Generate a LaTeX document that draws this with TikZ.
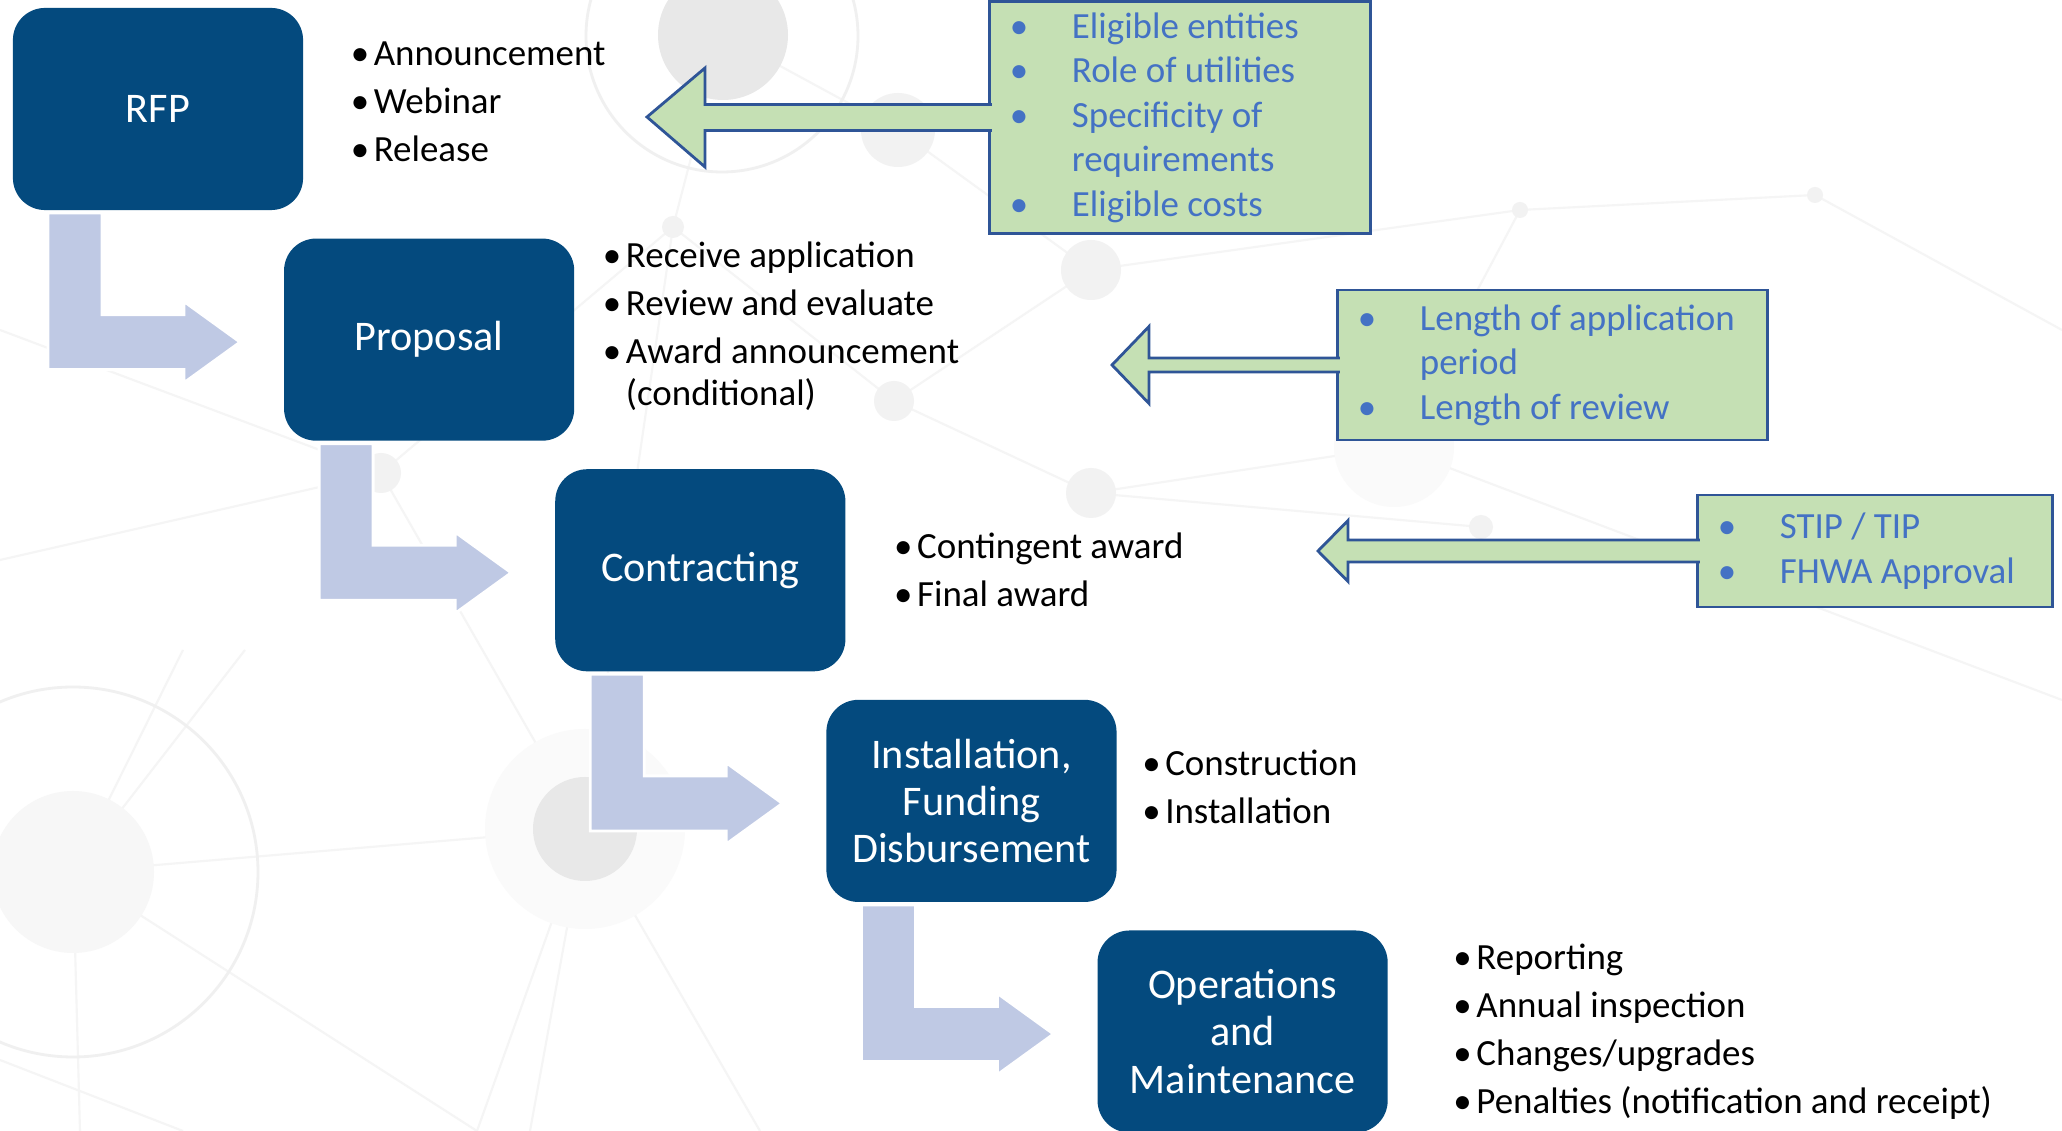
\documentclass[tikz,border=0pt]{standalone}
\usepackage{fontspec}
\setmainfont{Carlito}
\usepackage{xcolor}
\usetikzlibrary{positioning,calc}

\definecolor{stageblue}{RGB}{4,74,126}
\definecolor{flowblue}{RGB}{191,201,228}
\definecolor{notegreen}{RGB}{197,224,180}
\definecolor{noteborder}{RGB}{47,85,151}
\definecolor{notetext}{RGB}{68,114,196}

\newcommand{\itm}{\makebox[0.23cm][l]{\textbullet}}
\newcommand{\gitm}{\makebox[0.62cm][l]{\textbullet}}

% bent block arrow from one stage down and over to the next
\newcommand{\bentarrow}[2]{%
  \filldraw[flowarrow] let \p1=(#1.south west), \p2=(#2.west) in
    (\x1+0.35cm,\y1-0.03cm) -- (\x1+0.89cm,\y1-0.03cm) -- (\x1+0.89cm,\y2+0.25cm)
    -- (\x2-1cm,\y2+0.25cm) -- (\x2-1cm,\y2+0.38cm) -- (\x2-0.44cm,\y2-0.025cm)
    -- (\x2-1cm,\y2-0.43cm) -- (\x2-1cm,\y2-0.30cm) -- (\x1+0.35cm,\y2-0.30cm) -- cycle;}

% block arrow from a note box to a free tip
\newcommand{\notearrow}[5]{%
  \filldraw[notearrow] let \p1=(#1.west), \p2=(#2) in
    (\x1+0.02cm,\y1+#3) -- (\x2+#5,\y1+#3) -- (\x2+#5,\y1+#4) -- (\x2,\y2)
    -- (\x2+#5,\y1-#4) -- (\x2+#5,\y1-#3) -- (\x1+0.02cm,\y1-#3);}

\begin{document}
\begin{tikzpicture}[x=0.01cm,y=-0.01cm,
    stage/.style={fill=stageblue, rounded corners=0.32cm, minimum width=2.9cm, minimum height=2.02cm,
      inner sep=0pt, outer sep=0pt, text=white, align=center, font=\fontsize{12}{13.4}\selectfont},
    bullets/.style={align=flush left, inner sep=0pt, font=\fontsize{10.5}{11.95}\selectfont},
    note/.style={draw=noteborder, line width=0.8pt, fill=notegreen, inner xsep=0.2cm, inner ysep=0pt,
      outer sep=0pt, align=flush left, text=notetext, font=\fontsize{10.5}{12.66}\selectfont},
    flowarrow/.style={fill=flowblue, draw=white, line width=0.8pt},
    notearrow/.style={fill=notegreen, draw=noteborder, line width=0.8pt, line join=miter}]
    \tikzstyle{netline} = [black!4, line width=0.6pt]
    \tikzstyle{netdot} = [fill=black!5]

    \fill[white] (0,0) rectangle (2062,1131);
    \useasboundingbox (0,0) rectangle (2062,1131);

    % faint network in the background
    \draw[netline] (73,872) -- (585,829) -- (673,227) -- (723,35) -- (898,130) -- (1091,270) -- (894,401) -- (673,227);
    \draw[netline] (381,473) -- (585,829) -- (477,1131);
    \draw[netline] (585,829) -- (530,1131);
    \draw[netline] (585,829) -- (760,1131);
    \draw[netline] (381,473) -- (673,227);
    \draw[netline] (381,473) -- (0,560);
    \draw[netline] (894,401) -- (1091,493) -- (1394,447) -- (1520,210) -- (1815,195);
    \draw[netline] (1091,270) -- (1520,210);
    \draw[netline] (1091,493) -- (1481,527);
    \draw[netline] (183,650) -- (73,872) -- (245,650);
    \draw[netline] (73,872) -- (477,1131);
    \draw[netline] (0,1060) -- (183,1131);
    \draw[netline] (73,872) -- (80,1131);
    \draw[netline] (0,330) -- (381,473);
    \draw[netline] (1394,447) -- (2062,700);
    \draw[netline] (1815,195) -- (2062,330);
    \draw[black!6, line width=0.8pt] (722,36) circle (136);
    \draw[black!6, line width=0.8pt] (73,872) circle (185);
    \fill[black!9] (723,35) circle (65);
    \fill[black!3] (73,872) circle (81);
    \fill[black!2] (585,829) circle (100);
    \fill[black!9] (585,829) circle (52);
    \fill[netdot] (898,130) circle (37);
    \fill[netdot] (673,227) circle (11);
    \fill[netdot] (1091,270) circle (30);
    \fill[netdot] (894,401) circle (20);
    \fill[netdot] (1091,493) circle (25);
    \fill[netdot] (381,473) circle (20);
    \fill[black!2] (1394,447) circle (60);
    \fill[netdot] (1520,210) circle (8);
    \fill[netdot] (1815,195) circle (8);
    \fill[netdot] (1481,527) circle (12);

    % stages
    \node[stage] (rfp) at (158,109) {RFP};
    \node[stage, below right = 0.285cm and -0.19cm of rfp] (proposal) {Proposal};
    \node[stage, below right = 0.285cm and -0.19cm of proposal] (contracting) {Contracting};
    \node[stage, below right = 0.285cm and -0.19cm of contracting] (install) {Installation,\\Funding\\Disbursement};
    \node[stage, below right = 0.285cm and -0.19cm of install] (operations) {Operations\\and\\Maintenance};

    \bentarrow{rfp}{proposal}
    \bentarrow{proposal}{contracting}
    \bentarrow{contracting}{install}
    \bentarrow{install}{operations}

    % steps of each stage
    \node[bullets, right = 0.47cm of rfp, yshift=0.075cm] (rfplist)
        {\itm Announcement\\[0.06cm]\itm Webinar\\[0.06cm]\itm Release};
    \node[bullets, right = 0.28cm of proposal, yshift=0.13cm] (proposallist)
        {\itm Receive application\\[0.06cm]\itm Review and evaluate\\[0.06cm]\itm Award announcement\\\hspace*{0.23cm}(conditional)};
    \node[bullets, right = 0.48cm of contracting] (contractlist)
        {\itm Contingent award\\[0.06cm]\itm Final award};
    \node[bullets, right = 0.25cm of install, yshift=0.14cm] (installlist)
        {\itm Construction\\[0.06cm]\itm Installation};
    \node[bullets, right = 0.65cm of operations] (opslist)
        {\itm Reporting\\[0.06cm]\itm Annual inspection\\[0.06cm]\itm Changes/upgrades\\[0.06cm]\itm Penalties (notification and receipt)};

    % notes with their arrows
    \node[note, text width=3.4cm, minimum height=2.32cm] (eligibility) at (1180,117.5)
        {\gitm Eligible entities\\\gitm Role of utilities\\\gitm Specificity of\\\hspace*{0.62cm}requirements\\\gitm Eligible costs};
    \node[note, text width=3.89cm, minimum height=1.5cm] (timing) at (1552.5,365)
        {\gitm \mbox{Length of application}\\\hspace*{0.62cm}period\\\gitm Length of review};
    \node[note, text width=3.14cm, minimum height=1.12cm] (approval) at (1875,551)
        {\gitm STIP / TIP\\\gitm FHWA Approval};

    \coordinate (tipa) at (647,117);
    \coordinate (tipb) at (1112,365);
    \coordinate (tipc) at (1318,551);

    \notearrow{eligibility}{tipa}{0.13cm}{0.495cm}{0.58cm}
    \notearrow{timing}{tipb}{0.07cm}{0.385cm}{0.37cm}
    \notearrow{approval}{tipc}{0.11cm}{0.305cm}{0.30cm}
\end{tikzpicture}
\end{document}
